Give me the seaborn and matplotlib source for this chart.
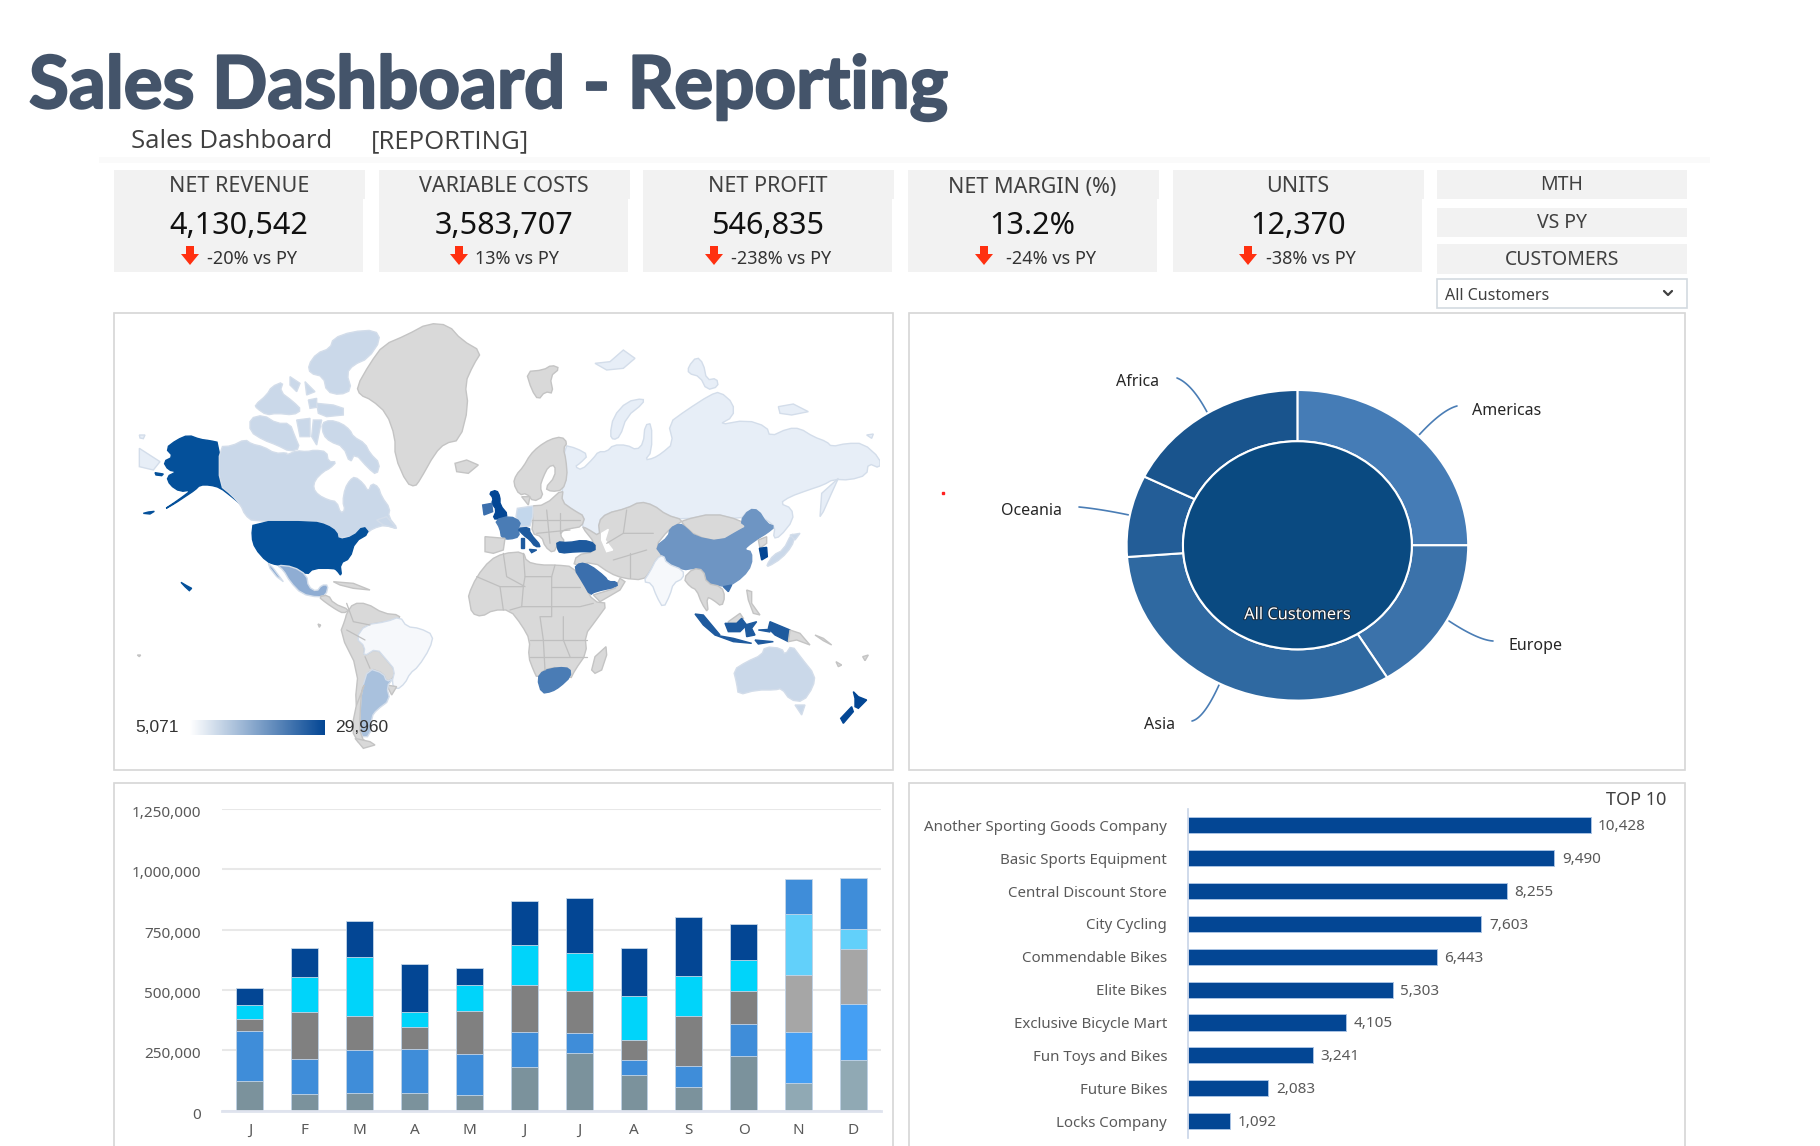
"""Sales dashboard: KPI strip, world map, region donut, monthly stack, top 10 customers."""
import matplotlib
matplotlib.use("Agg")
import matplotlib.patheffects as pe
import matplotlib.pyplot as plt
import numpy as np
import seaborn as sns
from matplotlib.patches import Rectangle
from matplotlib.transforms import ScaledTranslation

W, H = 1820, 1146

# --- KPI strip -------------------------------------------------------------
KPI_NAMES = ["NET REVENUE", "VARIABLE COSTS", "NET PROFIT", "NET MARGIN (%)", "UNITS"]
KPI_VALUES = ["4,130,542", "3,583,707", "546,835", "13.2%", "12,370"]
KPI_DELTAS = ["-20% vs PY", "13% vs PY", "-238% vs PY", "-24% vs PY", "-38% vs PY"]
SIDE_BUTTONS = ["MTH", "VS PY", "CUSTOMERS"]

# --- monthly stack ---------------------------------------------------------
MONTHS = ["J", "F", "M", "A", "M", "J", "J", "A", "S", "O", "N", "D"]
SERIES_1 = [123000, 68000, 73000, 73000, 64000, 180000, 240000, 148000, 98000, 225000, 113000, 209000]
SERIES_2 = [207000, 145000, 180000, 184000, 171000, 145000, 80000, 61000, 87000, 133000, 212000, 232000]
SERIES_3 = [48000, 194000, 138000, 90000, 178000, 194000, 177000, 82000, 206000, 139000, 238000, 227000]
SERIES_4 = [58000, 145000, 244000, 62000, 106000, 167000, 158000, 183000, 168000, 127000, 252000, 85000]
SERIES_5 = [72000, 123000, 151000, 200000, 72000, 183000, 226000, 200000, 243000, 151000, 143000, 210000]
STACK = [SERIES_1, SERIES_2, SERIES_3, SERIES_4, SERIES_5]
STACK_COLORS = ["#7B929C", "#3F8DD9", "#808080", "#00D4FA", "#034694"]
STACK_COLORS_LATE = ["#90A9B4", "#459FF3", "#A6A6A6", "#62D0FA", "#3F8DD9"]
Y_TICKS = [0, 250000, 500000, 750000, 1000000, 1250000]

# --- top 10 ----------------------------------------------------------------
CUSTOMERS = ["Another Sporting Goods Company", "Basic Sports Equipment", "Central Discount Store",
             "City Cycling", "Commendable Bikes", "Elite Bikes", "Exclusive Bicycle Mart",
             "Fun Toys and Bikes", "Future Bikes", "Locks Company"]
CUSTOMER_UNITS = [10428, 9490, 8255, 7603, 6443, 5303, 4105, 3241, 2083, 1092]

# --- donut -----------------------------------------------------------------
REGIONS = ["Americas", "Europe", "Asia", "Oceania", "Africa"]
REGION_SHARE = [25.0, 16.2, 32.6, 8.5, 17.7]
REGION_COLORS = ["#457CB6", "#3B72AA", "#2F69A1", "#235D97", "#19548D"]

# --- map shapes ------------------------------------------------------------
GREY, LAND_EDGE = "#D9D9D9", "#C4C4C4"
C_DARK, C_UK = "#04509A", "#034694"
C_CAN, C_RUS, C_MEX, C_BRA, C_ARG = "#CAD8E9", "#E7EEF7", "#8FADD3", "#F6F8FB", "#A9C1DD"
C_MID, C_FRA, C_CHN, C_DEU, C_IDN = "#3B6FAD", "#4A7CB5", "#6E95C3", "#C3D7EC", "#1E5A9E"

# x in the left half of the map
MAP_WEST = [
    (C_DARK, [(298,368),(298,495),(325,515),(345,535),(365,555),(335,530),(300,503),(270,495),(240,495),(225,510),(195,530),(165,550),(130,570),(175,540),(215,510),(180,515),(150,495),(140,470),(170,455),(145,450),(130,425),(160,410),(137,385),(170,360),(205,345),(240,358),(270,362)]),
    (C_DARK, [(105,458),(130,462),(125,467),(108,465)]),
    (C_DARK, [(70,580),(85,576),(103,574),(90,582)]),
    (C_RUS, [(58,385),(120,425),(100,450),(58,440)]),
    (C_RUS, [(58,345),(75,345),(70,356),(60,354)]),
    (C_CAN, [(298,380),(335,378),(375,358),(395,372),(430,380),(465,400),(500,398),(500,405),(530,392),(560,395),(585,390),(620,395),(625,425),(650,425),(630,445),(610,455),(585,480),(580,505),(595,525),(625,540),(650,545),(662,580),(675,570),(668,545),(675,505),(690,480),(705,470),(730,490),(745,515),(755,490),(775,500),(785,530),(810,565),(805,590),(835,628),(795,615),(760,625),(740,640),(725,640),(700,650),(670,650),(655,660),(645,635),(620,615),(580,605),(400,605),(375,585),(362,555),(335,525),(298,495)]),
    (C_CAN, [(605,310),(630,300),(665,310),(690,330),(700,350),(735,370),(750,400),(780,430),(770,465),(745,445),(705,400),(690,430),(670,380),(630,365),(610,345)]),
    (C_CAN, [(390,295),(430,285),(470,310),(510,310),(525,350),(540,385),(510,395),(470,375),(430,360),(390,335)]),
    (C_CAN, [(405,255),(440,225),(455,200),(490,185),(480,215),(520,245),(545,270),(520,285),(470,280),(440,285),(410,265)]),
    (C_CAN, [(565,135),(590,100),(630,85),(640,55),(695,35),(765,30),(782,60),(745,115),(700,135),(680,160),(695,210),(660,225),(620,215),(610,170),(570,160)]),
    (C_CAN, [(590,250),(640,255),(670,265),(670,285),(620,290),(595,280)]),
    (C_CAN, [(510,170),(540,190),(530,215),(510,195)]),
    (C_CAN, [(555,185),(585,215),(560,225)]),
    (C_CAN, [(530,300),(570,295),(570,350),(540,350)]),
    (C_CAN, [(580,300),(605,300),(590,375),(575,350)]),
    (C_CAN, [(565,240),(590,235),(590,262),(570,265)]),
    (C_CAN, [(770,600),(800,590),(830,625),(790,615)]),
    (GREY, [(710,200),(750,130),(790,75),(860,45),(925,10),(985,15),(1025,60),(1085,95),(1060,135),(1035,190),(1045,260),(1020,360),(975,370),(945,400),(900,480),(885,500),(860,490),(825,410),(825,350),(800,280),(755,240),(720,225)]),
    (GREY, [(1005,430),(1040,420),(1075,435),(1045,460),(1010,455)]),
    (C_DARK, [(400,605),(580,605),(620,615),(650,635),(655,660),(700,650),(730,618),(748,640),(705,665),(690,715),(660,730),(665,770),(650,750),(640,745),(580,745),(560,765),(520,740),(470,735),(440,725),(405,685),(395,650)]),
    (C_DARK, [(183,787),(200,797),(215,805),(208,812),(195,800)]),
    (C_MEX, [(470,735),(520,740),(560,765),(565,800),(590,815),(605,795),(625,795),(618,825),(595,832),(545,822),(510,785),(490,750)]),
    (C_MEX, [(445,730),(460,745),(490,785),(470,770),(450,745)]),
    (GREY, [(595,830),(625,825),(640,850),(690,870),(670,880),(650,870),(620,850)]),
    (GREY, [(640,785),(700,790),(750,810),(700,805),(660,795)]),
    (GREY, [(680,880),(700,850),(740,850),(790,880),(840,885),(835,905),(800,905),(735,915),(710,955),(735,980),(730,1010),(770,985),(800,1020),(825,1050),(820,1075),(800,1085),(790,1060),(750,1045),(735,1090),(720,1170),(705,1150),(715,1050),(660,940),(675,900)]),
    (C_BRA, [(735,915),(800,905),(840,890),(860,920),(900,925),(940,945),(930,985),(895,1040),(870,1060),(855,1090),(830,1110),(815,1090),(825,1050),(800,1020),(770,985),(730,1010),(735,980),(708,955)]),
    (GREY, [(800,1095),(830,1100),(815,1125)]),
    (C_ARG, [(745,1045),(790,1060),(800,1085),(820,1075),(800,1100),(810,1140),(770,1170),(755,1190),(750,1250),(720,1250),(720,1180),(725,1110)]),
    (GREY, [(735,1090),(725,1110),(720,1180),(720,1250),(755,1280),(700,1260),(700,1180)]),
    (GREY, [(705,1255),(750,1265),(765,1275),(730,1285)]),
    (GREY, [(52,1005),(62,1005),(58,1010)]),
    (GREY, [(594,912),(602,915),(598,922)]),
]

# x in the right half of the map
MAP_EAST = [
    (GREY, [(-35,825),(-10,770),(30,720),(70,700),(130,695),(140,725),(180,735),(230,735),(280,740),(310,790),(340,845),(385,850),(345,905),(315,945),(320,1000),(285,1050),(270,1080),(235,1040),(190,1050),(172,1075),(160,1050),(145,1010),(150,960),(125,915),(90,870),(40,870),(5,890),(-25,880),(-32,840)]),
    (C_RUS, [(250,375),(290,385),(325,405),(300,430),(285,440),(305,450),(340,415),(355,395),(380,395),(400,375),(440,375),(470,390),(490,370),(495,315),(515,310),(515,395),(495,420),(520,415),(545,400),(580,370),(565,310),(620,270),(690,225),(720,215),(760,250),(760,290),(715,315),(800,300),(860,320),(870,350),(925,325),(960,325),(1000,350),(1040,365),(1055,380),(1100,370),(1150,370),(1200,415),(1200,445),(1165,430),(1160,465),(1110,480),(1060,478),(1030,495),(985,510),(930,530),(900,550),(935,565),(940,600),(900,650),(880,655),(885,620),(860,600),(805,570),(780,600),(700,580),(610,600),(560,585),(520,555),(480,545),(440,565),(380,580),(355,605),(360,650),(320,625),(305,620),(315,590),(280,570),(245,545),(245,510),(262,470)]),
    (C_RUS, [(1020,590),(1025,520),(1075,475),(1050,530),(1030,575)]),
    (C_RUS, [(390,345),(400,290),(440,245),(490,235),(490,250),(440,290),(420,350),(400,360)]),
    (C_RUS, [(345,130),(390,125),(430,90),(465,115),(430,145),(380,150)]),
    (C_RUS, [(625,140),(650,110),(670,130),(680,180),(710,175),(715,200),(680,210),(660,170),(625,160)]),
    (C_RUS, [(895,260),(940,252),(985,275),(935,285),(900,280)]),
    (C_RUS, [(1160,345),(1180,342),(1175,355)]),
    (GREY, [(138,155),(190,150),(215,135),(240,145),(210,170),(220,220),(195,215),(175,240),(155,210)]),
    (GREY, [(100,490),(108,465),(130,440),(150,405),(175,380),(210,358),(245,350),(262,368),(250,385),(258,420),(262,470),(248,510),(215,515),(195,505),(225,470),(225,435),(205,440),(190,470),(180,500),(190,530),(160,545),(140,520),(118,525)]),
    (GREY, [(125,530),(150,530),(145,555)]),
    (GREY, [(195,555),(250,505),(245,545),(280,570),(315,590),(305,620),(275,625),(250,630),(240,645),(255,665),(235,670),(220,700),(195,680),(185,650),(155,640),(160,590),(150,558)]),
    (C_DEU, [(112,565),(158,558),(158,590),(150,618),(120,620),(108,590)]),
    (C_UK, [(27,518),(50,510),(60,530),(60,555),(85,585),(65,597),(38,597),(50,570),(35,550),(40,535)]),
    (C_MID, [(8,555),(35,550),(38,575),(12,585)]),
    (C_FRA, [(45,600),(90,588),(122,605),(115,625),(118,650),(90,658),(65,655),(60,625)]),
    (C_IDN, [(112,625),(148,622),(150,640),(185,680),(165,680),(150,660),(130,645)]),
    (C_IDN, [(122,655),(132,655),(132,685),(122,685)]),
    (C_IDN, [(148,688),(170,690),(155,698)]),
    (GREY, [(15,650),(75,655),(70,690),(40,700),(15,695)]),
    (GREY, [(355,605),(380,580),(440,565),(480,545),(520,555),(560,585),(610,600),(590,615),(565,630),(525,680),(550,705),(530,715),(510,755),(490,780),(430,775),(390,760),(340,725),(280,740),(290,705),(345,695),(345,670),(305,620),(320,625),(360,650)]),
    (GREY, [(340,825),(405,805),(420,775),(435,785),(420,810),(360,845)]),
    (C_IDN, [(230,665),(265,668),(310,660),(345,670),(345,695),(290,695),(240,700),(232,685)]),
    (C_MID, [(282,745),(300,728),(330,735),(375,770),(385,785),(410,785),(412,800),(345,815),(330,825),(310,790)]),
    ("#FFFFFF", [(365,640),(385,628),(375,660),(398,690),(380,695),(365,660)]),
    (GREY, [(610,600),(700,580),(780,600),(800,620),(780,635),(720,665),(650,650),(605,610)]),
    (C_CHN, [(527,680),(565,650),(570,625),(600,610),(620,625),(645,650),(720,665),(780,630),(800,620),(780,605),(808,568),(835,570),(860,610),(885,620),(860,640),(835,655),(800,680),(795,690),(815,695),(815,735),(790,770),(745,800),(725,798),(680,790),(670,750),(640,745),(610,750),(560,730),(545,705)]),
    (GREY, [(835,660),(860,650),(860,670),(840,685)]),
    (C_UK, [(838,685),(860,682),(862,710),(845,720)]),
    (C_BRA, [(510,755),(530,715),(550,705),(560,730),(610,750),(610,775),(580,790),(570,825),(550,865),(530,830),(515,790),(490,785)]),
    (GREY, [(610,775),(640,745),(670,750),(680,790),(725,800),(735,830),(725,860),(700,840),(680,830),(685,880),(665,850),(650,810),(630,800)]),
    (C_CAN, [(860,735),(880,705),(910,690),(935,640),(945,650),(935,680),(905,715),(865,740)]),
    (C_CAN, [(930,645),(960,640),(945,660)]),
    (GREY, [(800,810),(815,815),(815,850),(840,885),(820,880),(805,840)]),
    (C_MID, [(730,800),(755,795),(745,815)]),
    (GREY, [(745,905),(780,880),(790,895),(770,910),(745,910)]),
    (C_IDN, [(645,882),(670,885),(720,945),(705,945),(670,915)]),
    (C_IDN, [(705,945),(760,955),(815,970),(760,965)]),
    (C_IDN, [(735,910),(770,910),(785,895),(800,915),(780,935),(745,935)]),
    (C_IDN, [(795,915),(830,905),(815,925),(825,945),(800,950)]),
    (C_IDN, [(870,905),(930,930),(925,965),(885,945),(865,925)]),
    (C_IDN, [(835,930),(870,928),(870,936)]),
    (C_IDN, [(825,960),(880,965),(835,972)]),
    (GREY, [(930,930),(960,940),(990,975),(950,960),(925,965)]),
    (GREY, [(1005,945),(1030,955),(1055,975),(1030,962)]),
    (GREY, [(1068,1025),(1085,1035),(1075,1040)]),
    (GREY, [(1148,1010),(1165,1005),(1155,1022)]),
    (C_CAN, [(760,1050),(800,1025),(845,1005),(855,980),(905,985),(915,1005),(935,975),(965,1015),(1005,1065),(1000,1100),(970,1145),(930,1140),(905,1105),(885,1110),(830,1110),(775,1125),(770,1090)]),
    (C_CAN, [(945,1155),(975,1155),(965,1185)]),
    (C_UK, [(1120,1115),(1135,1130),(1160,1140),(1135,1165),(1125,1160),(1125,1135)]),
    (C_UK, [(1115,1160),(1120,1175),(1090,1210),(1082,1195)]),
    (C_FRA, [(172,1075),(190,1052),(235,1042),(270,1045),(272,1070),(240,1100),(215,1115),(185,1120)]),
    (GREY, [(335,1050),(345,1010),(378,980),(380,1005),(365,1050),(345,1060)]),
]

MAP_BORDERS = [
    [(130,700),(135,770),(215,770),(225,735)], [(70,700),(80,770),(135,800)],
    [(-10,770),(60,800),(130,800),(135,770)], [(130,800),(125,860),(90,870)],
    [(215,770),(215,890),(180,890),(190,960),(195,1050)], [(60,800),(70,870)],
    [(125,860),(215,860),(300,860),(340,850)], [(215,800),(300,800)], [(150,960),(320,960)],
    [(250,890),(250,960),(270,1010)], [(150,1010),(320,1010)],
    [(155,600),(300,600)], [(170,640),(270,630)], [(200,570),(210,670)], [(240,580),(240,640)],
    [(380,670),(430,640),(520,640)], [(430,640),(440,570)], [(400,720),(500,690)], [(450,700),(450,775)],
    [(-400,850),(-380,905),(-330,915)], [(-400,930),(-345,960)], [(-345,1010),(-330,1045)],
]

# leader lines of the donut, three control points in px
LEADERS = [
    [(1177,378),(1192,384),(1207,412)],
    [(1457,406),(1442,410),(1419,435)],
    [(1493,641),(1478,640),(1449,621)],
    [(1079,507),(1100,509),(1129,515)],
    [(1192,721),(1204,718),(1219,685)],
]
REGION_LABEL_XY = [(1507,411), (1535,646), (1159,725), (1031,511), (1138,382)]

sns.set_theme(style="white")
plt.rcParams["font.family"] = ["Noto Sans", "DejaVu Sans"]

fig = plt.figure(figsize=(W / 100, H / 100), dpi=100, facecolor="white")


def px_axes(x0, y0, x1, y1, **kw):
    """Axes from a pixel box measured from the top left of the figure."""
    return fig.add_axes([x0 / W, 1 - y1 / H, (x1 - x0) / W, (y1 - y0) / H], **kw)


bg = px_axes(0, 0, W, H)
bg.set_xlim(0, W)
bg.set_ylim(H, 0)
bg.axis("off")


def box(x0, y0, x1, y1, fc="#F2F2F2", ec="none", lw=0):
    bg.add_patch(Rectangle((x0, y0), x1 - x0, y1 - y0, fc=fc, ec=ec, lw=lw))


# header
bg.text(29, 108, "Sales Dashboard - Reporting", fontsize=52.3, fontweight="bold", family="Lato",
        color="#44546A", va="baseline",
        path_effects=[pe.withStroke(linewidth=1.6, foreground="#44546A")])
bg.text(131, 142, "Sales Dashboard", fontsize=18.5, color="#404040", va="center", family="Open Sans")
bg.text(371, 142, "[REPORTING]", fontsize=18.5, color="#404040", va="center", family="Open Sans")
box(99, 157, 1710, 163, fc="#FAFAFA")

# KPI cards
card_left = [114, 379, 643, 907.5, 1173]
delta_left = [207, 475, 731, 1006, 1266]
arrow_x = [190, 459, 714, 984, 1248]
for left, name, value, delta, dx, ax_ in zip(card_left, KPI_NAMES, KPI_VALUES, KPI_DELTAS, delta_left, arrow_x):
    box(left, 170, left + 251, 199)
    box(left, 199, left + 249, 272)
    cx = left + 125
    bg.text(cx, 187, name, ha="center", va="center", fontsize=15.5, color="#404040")
    bg.text(cx, 226, value, ha="center", va="center", fontsize=22, color="#111111")
    bg.text(dx, 259, delta, ha="left", va="center", fontsize=13, color="#333333")
    bg.fill([ax_ - 4, ax_ + 4, ax_ + 4, ax_ + 9, ax_, ax_ - 9, ax_ - 4],
            [246, 246, 254, 254, 265, 254, 254], color="#FF3010", lw=0)

for (y0, y1), label in zip([(170, 199), (208, 237), (244, 274)], SIDE_BUTTONS):
    box(1437, y0, 1687, y1)
    bg.text(1562, (y0 + y1) / 2 + 1, label, ha="center", va="center", fontsize=14, color="#404040")
box(1437, 279, 1687, 308, fc="white", ec="#D3DAE0", lw=1.2)
bg.text(1445, 296, "All Customers", va="center", fontsize=11.5, color="#404040")
bg.plot([1664, 1668, 1672], [291, 295, 291], color="#404040", lw=1.6)

# panels
PANEL_EDGE = "#D6D6D6"
box(114, 313, 893, 770, fc="white", ec=PANEL_EDGE, lw=1.2)
box(908.5, 313, 1685, 770, fc="white", ec=PANEL_EDGE, lw=1.2)
box(114, 783, 893, 1160, fc="white", ec=PANEL_EDGE, lw=1.2)
box(908.5, 783, 1685, 1160, fc="white", ec=PANEL_EDGE, lw=1.2)

# world map
map_ax = px_axes(120, 320, 880, 760)
map_ax.set_xlim(0, 2280)
map_ax.set_ylim(1320, 0)
map_ax.axis("off")
EAST_SHIFT = 1080


def soften(pts):
    """Cut the corners of a traced outline once so coasts don't look faceted."""
    pts = np.array(pts, dtype=float)
    if len(pts) <= 6:
        return pts
    nxt = np.roll(pts, -1, axis=0)
    out = np.empty((len(pts) * 2, 2))
    out[0::2] = 0.75 * pts + 0.25 * nxt
    out[1::2] = 0.25 * pts + 0.75 * nxt
    return out


def draw_land(shapes, shift=0):
    for color, pts in shapes:
        outline = soften(pts)
        edge = "#FFFFFF" if color == "#FFFFFF" else (LAND_EDGE if color == GREY else "#D3DDEA")
        if color in (C_DARK, C_UK, C_IDN, C_MID, C_FRA, C_CHN):
            edge = color
        map_ax.fill(outline[:, 0] + shift, outline[:, 1], fc=color, ec=edge, lw=1.0)


draw_land(MAP_WEST)
draw_land(MAP_EAST, EAST_SHIFT)
for line in MAP_BORDERS:
    xs, ys = zip(*line)
    map_ax.plot(np.array(xs) + EAST_SHIFT, ys, color="#BFBFBF", lw=0.9)

map_ax.text(135, 727, "5,071", va="center", fontsize=12.5, family="Liberation Sans",
            color="#333333", transform=bg.transData)
map_ax.text(335, 727, "29,960", va="center", fontsize=12.5, family="Liberation Sans",
            color="#333333", transform=bg.transData)
grad_ax = px_axes(190, 720, 325, 735)
grad_ax.imshow(np.linspace(0, 1, 256)[None, :], aspect="auto",
               cmap=sns.blend_palette(["#FFFFFF", "#034694"], as_cmap=True))
grad_ax.axis("off")

# donut
cx, cy, rx, ry = 1297.4, 545.3, 170.8, 155.3
pie_ax = px_axes(cx - rx, cy - ry, cx + rx, cy + ry)
pie_ax.pie(REGION_SHARE, colors=REGION_COLORS, startangle=90, counterclock=False, radius=1,
           wedgeprops=dict(width=0.33, edgecolor="white", linewidth=1.5))
pie_ax.pie([1], colors=["#0A4A81"], radius=0.67, wedgeprops=dict(edgecolor="white", linewidth=1.5))
pie_ax.set_aspect("auto")
pie_ax.set_xlim(-1, 1)
pie_ax.set_ylim(-1, 1)
pie_ax.patch.set_alpha(0)
for patch in pie_ax.patches:
    patch.set_clip_on(False)
pie_ax.text(0, -0.45, "All Customers", color="white", ha="center", va="center", fontsize=11.8,
            path_effects=[pe.withStroke(linewidth=1.4, foreground="#1A2A3A")])
t = np.linspace(0, 1, 30)[:, None]
for line in LEADERS:
    p0, p1, p2 = np.array(line, dtype=float)
    curve = (1 - t) ** 2 * p0 + 2 * t * (1 - t) * p1 + t ** 2 * p2
    bg.plot(curve[:, 0], curve[:, 1], color="#4A7DB5", lw=1.2)
for name, (x, y) in zip(REGIONS, REGION_LABEL_XY):
    bg.text(x, y, name, ha="center", va="center", fontsize=11.5, color="#262626")
bg.plot([943], [493], marker="s", ms=1.5, color="#FF2020")

# monthly stack, running totals drawn tallest first so each one shows as a segment
stack_ax = px_axes(222.4, 809, 881, 1110.7)
stack_ax.patch.set_alpha(0)
month_idx = np.arange(len(MONTHS))
totals = np.cumsum(STACK, axis=0)
for i in reversed(range(len(STACK))):
    colors = [STACK_COLORS[i]] * 10 + [STACK_COLORS_LATE[i]] * 2
    sns.barplot(x=month_idx, y=totals[i], hue=month_idx, palette=colors, legend=False,
                width=0.49, saturation=1, ax=stack_ax, edgecolor="#C5D6E8", linewidth=0.6)
stack_ax.set_xlim(-0.5, 11.5)
stack_ax.set_ylim(0, 1250000)
stack_ax.set_yticks(Y_TICKS, [f"{v:,}" for v in Y_TICKS])
stack_ax.set_xticks(month_idx, MONTHS)
stack_ax.set_xlabel("")
stack_ax.set_ylabel("")
stack_ax.tick_params(axis="y", length=0, pad=15.5, labelsize=11, labelcolor="#595959")
stack_ax.tick_params(axis="x", length=0, pad=9, labelsize=11, labelcolor="#595959")
# the value labels sit a little under their gridlines in the original
nudge = ScaledTranslation(0, -2.5 / 100, fig.dpi_scale_trans)
for tick in stack_ax.get_yticklabels():
    tick.set_transform(tick.get_transform() + nudge)
stack_ax.grid(axis="y", color="#E8E8E8", lw=1.5)
stack_ax.set_axisbelow(True)
sns.despine(ax=stack_ax, left=True, top=True, right=True)
stack_ax.spines["bottom"].set_color("#DFE3EE")
stack_ax.spines["bottom"].set_linewidth(2)

# top 10
top_ax = px_axes(1188, 809, 1640, 1137.5)
top_ax.patch.set_alpha(0)
sns.barplot(x=CUSTOMER_UNITS, y=CUSTOMERS, orient="h", color="#034694", saturation=1, width=0.49,
            ax=top_ax, edgecolor="#A9C3E3", linewidth=0.7)
top_ax.set_xlim(0, 11710)
top_ax.set_xticks([])
top_ax.set_xlabel("")
top_ax.set_ylabel("")
top_ax.tick_params(axis="y", length=0, pad=15, labelsize=10.8, labelcolor="#595959")
labels = top_ax.bar_label(top_ax.containers[0], fmt="{:,.0f}", padding=5.5, fontsize=11, color="#595959")
for lab in labels:
    lab.xyann = (lab.xyann[0], lab.xyann[1] - 1)
sns.despine(ax=top_ax, bottom=True, top=True, right=True)
top_ax.spines["left"].set_color("#C8D4E8")
top_ax.spines["left"].set_linewidth(1.2)
bg.text(1666, 800, "TOP 10", ha="right", va="center", fontsize=13, color="#404040")

fig.savefig("out.png", dpi=100)
plt.close(fig)
